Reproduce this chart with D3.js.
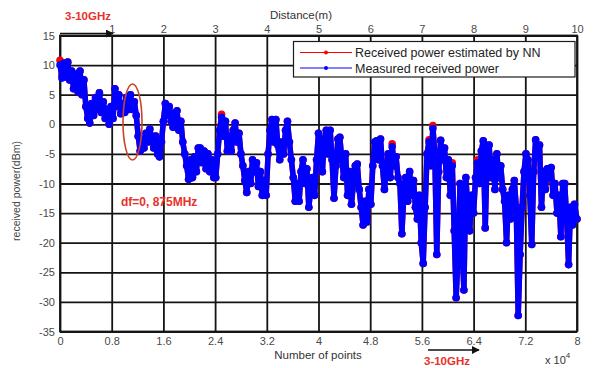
<!DOCTYPE html>
<html><head><meta charset="utf-8">
<script src="https://cdn.jsdelivr.net/npm/d3@7"></script>
<style>
body{margin:0;background:#fff}
svg{display:block}
text{font-family:"Liberation Sans",Arial,sans-serif}
</style>
</head><body>
<svg id="chart" width="593" height="368"></svg>
<script>
// ---- data (x in units of 10^4 points, power in dBm) ----
const samplePoints = [
0.00,0.03,0.06,0.09,0.12,0.15,0.18,0.21,0.25,0.28,
0.31,0.34,0.37,0.40,0.43,0.46,0.49,0.52,0.55,0.58,
0.61,0.64,0.67,0.70,0.73,0.76,0.79,0.82,0.85,0.88,
0.91,0.94,0.97,1.00,1.03,1.06,1.09,1.12,1.15,1.18,
1.21,1.24,1.27,1.30,1.33,1.36,1.39,1.42,1.45,1.48,
1.51,1.54,1.57,1.60,1.63,1.66,1.69,1.72,1.75,1.78,
1.81,1.84,1.87,1.90,1.93,1.96,1.99,2.02,2.05,2.08,
2.11,2.14,2.17,2.20,2.23,2.26,2.29,2.32,2.35,2.38,
2.41,2.44,2.47,2.50,2.53,2.56,2.59,2.62,2.65,2.68,
2.71,2.74,2.77,2.80,2.83,2.86,2.89,2.92,2.95,2.98,
3.01,3.04,3.07,3.10,3.13,3.16,3.19,3.22,3.25,3.28,
3.31,3.34,3.37,3.40,3.43,3.46,3.49,3.52,3.55,3.58,
3.61,3.64,3.67,3.70,3.73,3.76,3.79,3.82,3.85,3.88,
3.91,3.94,3.97,4.00,4.03,4.06,4.09,4.12,4.15,4.18,
4.21,4.24,4.27,4.30,4.33,4.36,4.39,4.42,4.45,4.48,
4.51,4.54,4.57,4.60,4.63,4.66,4.69,4.72,4.75,4.78,
4.81,4.84,4.87,4.90,4.93,4.96,4.99,5.02,5.05,5.08,
5.11,5.14,5.17,5.20,5.23,5.26,5.29,5.32,5.35,5.38,
5.41,5.44,5.47,5.50,5.53,5.56,5.59,5.62,5.65,5.68,
5.71,5.74,5.77,5.80,5.83,5.86,5.89,5.92,5.95,5.98,
6.01,6.04,6.07,6.10,6.13,6.16,6.19,6.22,6.25,6.28,
6.31,6.34,6.37,6.40,6.43,6.46,6.49,6.52,6.55,6.58,
6.61,6.64,6.67,6.70,6.73,6.76,6.79,6.82,6.85,6.88,
6.91,6.94,6.97,7.00,7.03,7.06,7.09,7.12,7.15,7.18,
7.21,7.24,7.27,7.30,7.33,7.36,7.39,7.42,7.45,7.48,
7.51,7.54,7.57,7.60,7.63,7.66,7.69,7.72,7.75,7.78,
7.81,7.84,7.87,7.90,7.93,7.96,8.00];

const measuredPower = [
10.0,7.8,10.3,8.0,10.5,7.5,9.0,6.0,8.5,5.5,
9.0,5.0,7.5,3.0,1.0,0.2,3.5,1.5,4.5,2.5,
5.3,2.0,3.8,1.0,2.5,0.0,3.0,1.0,6.0,3.0,
5.0,1.8,3.5,2.0,4.5,2.5,5.0,2.5,3.8,1.5,
-2.0,-4.5,-2.5,-4.0,-1.5,-3.0,-0.8,-2.5,-4.0,-2.0,
-5.0,-5.5,-3.0,0.5,3.5,1.5,3.0,0.5,-0.5,2.0,
2.3,-1.0,0.5,-3.0,-5.0,-7.0,-9.3,-6.0,-9.0,-5.5,
-8.0,-4.0,-4.0,-6.5,-4.5,-7.5,-5.0,-8.0,-6.0,-9.0,
-9.0,-5.0,-1.0,1.2,-2.0,0.5,-4.5,-2.0,-4.5,-1.0,
0.2,-3.0,-1.5,-5.0,-7.0,-9.5,-11.5,-8.0,-10.0,-6.0,
-8.0,-6.5,-10.5,-8.0,-12.0,-9.5,-12.0,-5.0,-1.0,0.8,
-3.0,0.8,-3.5,-6.0,-3.0,-5.0,-1.0,0.5,-3.0,-6.0,
-9.0,-13.0,-10.0,-13.0,-8.0,-6.0,-10.0,-7.5,-14.0,-11.0,
-9.0,-12.0,-6.0,-1.5,-4.0,-8.0,-2.5,-1.0,-5.0,-1.0,
-6.0,-12.5,-7.0,-2.5,-2.2,-6.0,-9.0,-5.0,-12.0,-8.0,
-13.5,-10.0,-7.0,-6.7,-11.0,-14.0,-17.0,-13.0,-16.5,-11.0,
-13.5,-7.0,-3.0,-2.8,-6.0,-2.5,-7.0,-11.0,-8.0,-5.0,
-9.0,-3.8,-7.0,-5.5,-9.0,-10.0,-18.5,-12.0,-9.0,-13.0,
-8.0,-12.0,-9.5,-14.0,-16.0,-12.0,-20.0,-23.5,-14.0,-5.0,
-3.0,-7.0,-0.7,-5.0,-22.0,-8.0,-2.7,-6.0,-4.0,-9.0,
-6.0,-12.0,-7.0,-18.0,-29.3,-22.0,-10.0,-20.0,-28.0,-9.0,
-14.0,-18.0,-12.0,-15.0,-9.0,-6.5,-10.0,-4.5,-2.8,-17.5,
-5.0,-3.5,-9.0,-6.0,-11.0,-5.0,-9.0,-7.0,-11.0,-13.0,
-20.0,-12.0,-16.0,-11.0,-9.5,-14.0,-32.3,-22.0,-14.0,-8.0,
-5.0,-6.0,-12.0,-20.3,-8.0,-2.6,-5.0,-3.5,-14.0,-8.0,
-11.0,-7.5,-9.0,-7.3,-12.0,-10.0,-15.0,-12.0,-19.0,-10.0,
-10.0,-16.0,-23.7,-14.0,-17.0,-13.5,-16.0];

const estimatedPower = [
10.8,8.3,10.4,8.0,10.5,7.5,9.0,6.0,8.5,5.5,
9.0,5.0,7.5,3.0,1.0,0.2,3.5,1.5,4.5,2.5,
5.3,2.0,3.8,1.0,2.5,0.0,3.0,1.0,6.0,3.0,
5.0,1.8,3.5,2.0,4.5,2.5,5.0,2.5,3.8,1.5,
-2.0,-4.5,-2.5,-4.0,-1.5,-3.0,-0.8,-2.5,-4.0,-2.0,
-5.0,-5.5,-3.0,0.5,3.5,1.5,3.0,0.5,-0.5,2.0,
2.3,-1.0,0.5,-3.0,-5.0,-7.0,-9.3,-6.0,-9.0,-5.5,
-8.0,-4.0,-4.0,-6.5,-4.5,-7.5,-5.0,-8.0,-6.0,-9.0,
-9.0,-5.0,-1.0,1.7,-2.0,0.5,-4.5,-2.0,-4.5,-1.0,
0.2,-3.0,-1.5,-5.0,-7.0,-9.5,-11.5,-8.0,-10.0,-6.0,
-8.0,-6.5,-10.5,-8.0,-12.0,-9.5,-12.0,-5.0,-1.0,0.8,
-3.0,0.8,-3.5,-6.0,-3.0,-5.0,-1.0,0.5,-3.0,-6.0,
-9.0,-13.0,-10.0,-13.0,-8.0,-6.0,-10.0,-7.5,-14.0,-11.0,
-9.0,-12.0,-6.0,-1.5,-4.0,-8.0,-2.5,-1.0,-5.0,-1.0,
-6.0,-12.5,-7.0,-2.5,-2.2,-6.0,-9.0,-5.0,-12.0,-8.0,
-13.5,-10.0,-7.0,-6.7,-11.0,-14.0,-17.0,-13.0,-16.5,-11.0,
-13.5,-7.0,-3.0,-2.8,-6.0,-2.5,-7.0,-11.0,-8.0,-5.0,
-9.0,-3.3,-7.0,-5.5,-9.0,-10.0,-18.5,-12.0,-9.0,-13.0,
-8.0,-12.0,-9.5,-14.0,-16.0,-12.0,-20.0,-23.5,-14.0,-5.0,
-2.6,-7.0,-0.2,-5.0,-22.0,-8.0,-2.7,-6.0,-4.0,-9.0,
-6.0,-12.0,-6.5,-18.0,-29.3,-22.0,-10.0,-20.0,-28.0,-9.0,
-14.0,-18.0,-12.0,-15.0,-9.0,-6.0,-10.0,-4.5,-2.8,-17.5,
-5.0,-3.5,-9.0,-6.0,-11.0,-5.0,-9.0,-7.0,-11.0,-13.0,
-20.0,-12.0,-16.0,-11.0,-9.5,-14.0,-32.3,-22.0,-14.0,-8.0,
-5.0,-6.0,-12.0,-20.3,-8.0,-2.6,-5.0,-3.5,-14.0,-8.0,
-11.0,-7.5,-9.0,-7.3,-12.0,-10.0,-15.0,-12.0,-19.0,-10.0,
-10.0,-16.0,-23.7,-14.0,-17.0,-13.5,-16.0];

const xTicks = [0,0.8,1.6,2.4,3.2,4,4.8,5.6,6.4,7.2,8];
const yTicks = [15,10,5,0,-5,-10,-15,-20,-25,-30,-35];
const distanceTicks = [1,2,3,4,5,6,7,8,9,10];
const seriesNames = ["Received power estimated by NN","Measured received power"];
const seriesColors = ["#ff0000","#0000ff"];

// ---- layout ----
const L = 60, R = 577, T = 35.5, B = 331.5;
const svg = d3.select("#chart");
const x = d3.scaleLinear().domain([0, 8]).range([L, R]);
const y = d3.scaleLinear().domain([-35, 15]).range([B, T]);
const xd = d3.scaleLinear().domain([0, 10]).range([L, R]);

svg.append("rect").attr("x",0).attr("y",0).attr("width",593).attr("height",368).attr("fill","#fff");

const fmt = d => String(d);
const gx = svg.append("g").attr("transform",`translate(0,${B})`)
  .call(d3.axisBottom(x).tickValues(xTicks).tickFormat(fmt).tickSize(-(B-T)).tickPadding(6));
const gy = svg.append("g").attr("transform",`translate(${L},0)`)
  .call(d3.axisLeft(y).tickValues(yTicks).tickFormat(fmt).tickSize(-(R-L)).tickPadding(5));
const gt = svg.append("g").attr("transform",`translate(0,${T})`)
  .call(d3.axisTop(xd).tickValues(distanceTicks).tickFormat(fmt).tickSize(0).tickPadding(3));
[gx,gy,gt].forEach(g=>{
  g.select(".domain").remove();
  g.selectAll(".tick line").attr("stroke","#141414").attr("stroke-width",1.8);
  g.selectAll(".tick text").attr("fill","#4a4a4a").style("font-size","11px");
});
gt.selectAll(".tick line").remove();

svg.append("rect").attr("x",L).attr("y",T).attr("width",R-L).attr("height",B-T)
  .attr("fill","none").attr("stroke","#141414").attr("stroke-width",1.8);

// series
const series = [estimatedPower, measuredPower];
const line = d3.line().x((d,i)=>x(samplePoints[i])).y(d=>y(d));
series.forEach((vals, s) => {
  const g = svg.append("g");
  g.append("path").datum(vals).attr("d", line).attr("fill","none")
    .attr("stroke", seriesColors[s]).attr("stroke-width", 5.5).attr("stroke-linejoin","round");
  g.selectAll("circle").data(vals).join("circle")
    .attr("cx",(d,i)=>x(samplePoints[i])).attr("cy",d=>y(d)).attr("r",3.8)
    .attr("fill",seriesColors[s]);
});

// legend
const lg = svg.append("g");
lg.append("rect").attr("x",293.5).attr("y",41.5).attr("width",281.5).attr("height",35.5)
  .attr("fill","#fff").attr("stroke","#1c1c1c").attr("stroke-width",1.2);
seriesNames.forEach((n,i)=>{
  const yy = 52.5 + i*15.5;
  lg.append("line").attr("x1",300).attr("x2",352).attr("y1",yy).attr("y2",yy)
    .attr("stroke",seriesColors[i]).attr("stroke-width",1.2);
  lg.append("circle").attr("cx",326).attr("cy",yy).attr("r",2).attr("fill",seriesColors[i]);
  lg.append("text").attr("x",355).attr("y",yy+4.5).text(n)
    .attr("fill","#222").style("font-size","12.5px");
});

// axis titles
svg.append("text").attr("x",301).attr("y",19).attr("text-anchor","middle")
  .attr("fill","#333").style("font-size","11.5px").text("Distance(m)");
svg.append("text").attr("x",318).attr("y",359).attr("text-anchor","middle")
  .attr("fill","#333").style("font-size","11.5px").text("Number of points");
svg.append("text").attr("transform","translate(20,191) rotate(-90)").attr("text-anchor","middle")
  .attr("fill","#444").style("font-size","10.5px").text("received power(dBm)");
const ex = svg.append("text").attr("x",545).attr("y",364).attr("fill","#333").style("font-size","11px");
ex.append("tspan").text("x 10");
ex.append("tspan").attr("dy",-6).style("font-size","8px").text("4");

// arrows
const defs = svg.append("defs");
defs.append("marker").attr("id","ah").attr("viewBox","0 0 10 10").attr("refX",9).attr("refY",5)
  .attr("markerWidth",8).attr("markerHeight",8).attr("markerUnits","userSpaceOnUse").attr("orient","auto")
  .append("path").attr("d","M0,0 L10,5 L0,10 Z").attr("fill","#111");
svg.append("line").attr("x1",60).attr("x2",113).attr("y1",33.5).attr("y2",33.5)
  .attr("stroke","#111").attr("stroke-width",1.5).attr("marker-end","url(#ah)");
svg.append("line").attr("x1",428).attr("x2",479).attr("y1",350).attr("y2",350)
  .attr("stroke","#111").attr("stroke-width",1.5).attr("marker-end","url(#ah)");

// red annotations
const red = "#e8322a";
svg.append("text").attr("x",65).attr("y",20).attr("fill",red).style("font-size","11.5px")
  .style("font-weight","bold").text("3-10GHz");
svg.append("text").attr("x",424).attr("y",365).attr("fill",red).style("font-size","11.5px")
  .style("font-weight","bold").text("3-10GHz");
svg.append("text").attr("x",121).attr("y",206).attr("fill",red).style("font-size","12px")
  .style("font-weight","bold").text("df=0, 875MHz");
svg.append("ellipse").attr("cx",132.5).attr("cy",122).attr("rx",9.5).attr("ry",38)
  .attr("fill","none").attr("stroke","#c8442a").attr("stroke-width",1.6);
</script>
</body></html>
